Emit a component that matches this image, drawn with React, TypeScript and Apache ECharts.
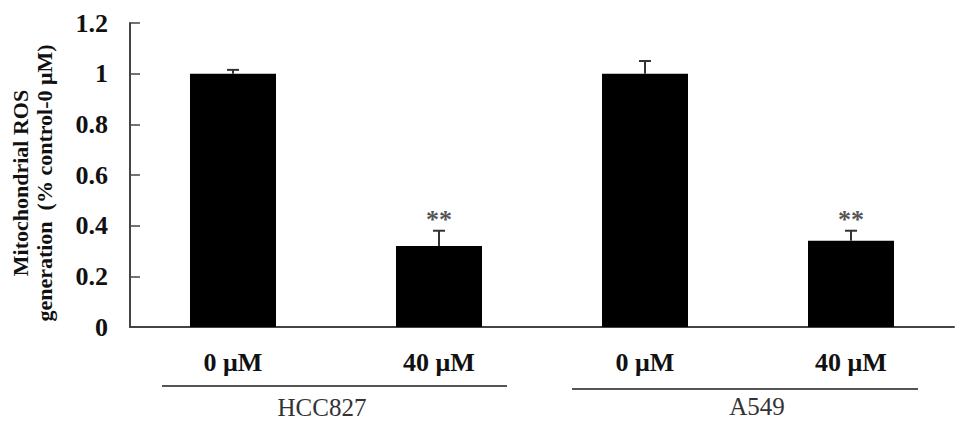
import React, { useEffect, useRef } from "react";
import * as echarts from "echarts";

const categories = ["0 μM", "40 μM", "0 μM", "40 μM"];
const means = [1.0, 0.32, 1.0, 0.34];
const errors = [0.015, 0.06, 0.05, 0.04];
const marks = ["", "**", "", "**"];
const groups = ["HCC827", "A549"];
const yTicks = [0, 0.2, 0.4, 0.6, 0.8, 1, 1.2];

const SERIF = "'Liberation Serif', 'Times New Roman', serif";

export default function App() {
  const ref = useRef<HTMLDivElement>(null);
  useEffect(() => {
    const chart = echarts.init(ref.current!, null, { renderer: "svg" });
    chart.setOption({
      animation: false,
      backgroundColor: "#fff",
      grid: { left: 130, right: 15, top: 23, bottom: 102 },
      xAxis: {
        type: "category",
        data: categories,
        axisLine: { lineStyle: { color: "#444", width: 2 } },
        axisTick: { inside: true, length: 7, lineStyle: { color: "#444", width: 1.5 } },
        axisLabel: {
          color: "#111",
          fontFamily: SERIF,
          fontWeight: "bold",
          fontSize: 26,
          margin: 22,
        },
      },
      yAxis: {
        type: "value",
        min: yTicks[0],
        max: yTicks[yTicks.length - 1],
        interval: 0.2,
        splitLine: { show: false },
        axisLine: { show: true, lineStyle: { color: "#444", width: 2 } },
        axisTick: { show: true, inside: true, length: 10, lineStyle: { color: "#444", width: 1.5 } },
        axisLabel: {
          color: "#111",
          fontFamily: SERIF,
          fontWeight: "bold",
          fontSize: 26,
          margin: 22,
        },
      },
      graphic: [
        {
          type: "text",
          x: 20,
          y: 183,
          rotation: Math.PI / 2,
          style: {
            text: "Mitochondrial ROS",
            font: `bold 22px ${SERIF}`,
            fill: "#111",
            align: "center",
            verticalAlign: "middle",
          },
        },
        {
          type: "text",
          x: 44,
          y: 183,
          rotation: Math.PI / 2,
          style: {
            text: "generation  (% control-0 μM)",
            font: `bold 22px ${SERIF}`,
            fill: "#111",
            align: "center",
            verticalAlign: "middle",
          },
        },
        { type: "line", shape: { x1: 162, y1: 386, x2: 507, y2: 386 }, style: { stroke: "#555", lineWidth: 2 } },
        { type: "line", shape: { x1: 572, y1: 389, x2: 918, y2: 389 }, style: { stroke: "#555", lineWidth: 2 } },
        {
          type: "text",
          x: 322,
          y: 407,
          style: { text: groups[0], font: `25px ${SERIF}`, fill: "#333", align: "center", verticalAlign: "middle" },
        },
        {
          type: "text",
          x: 757,
          y: 406,
          style: { text: groups[1], font: `25px ${SERIF}`, fill: "#333", align: "center", verticalAlign: "middle" },
        },
      ],
      series: [
        {
          type: "bar",
          data: means,
          barWidth: 86,
          itemStyle: { color: "#000" },
        },
        {
          type: "custom",
          data: means.map((m, i) => [i, m, errors[i]]),
          z: 5,
          renderItem: (params: any, api: any) => {
            const i = api.value(0);
            const m = api.value(1);
            const e = api.value(2);
            const base = api.coord([i, m]);
            const top = api.coord([i, m + e]);
            const children: any[] = [
              {
                type: "line",
                shape: { x1: base[0], y1: base[1], x2: top[0], y2: top[1] },
                style: { stroke: "#333", lineWidth: 2 },
              },
              {
                type: "line",
                shape: { x1: top[0] - 6, y1: top[1], x2: top[0] + 6, y2: top[1] },
                style: { stroke: "#333", lineWidth: 2 },
              },
            ];
            const mk = marks[params.dataIndex];
            if (mk) {
              children.push({
                type: "text",
                x: top[0],
                y: top[1] + 2,
                style: {
                  text: mk,
                  font: `bold 26px ${SERIF}`,
                  fill: "#555",
                  align: "center",
                  verticalAlign: "bottom",
                },
              });
            }
            return { type: "group", children };
          },
        },
      ],
    });
    return () => chart.dispose();
  }, []);
  return (
    <div
      ref={ref}
      style={{ position: "absolute", left: 0, top: 0, width: 969, height: 429 }}
    />
  );
}
